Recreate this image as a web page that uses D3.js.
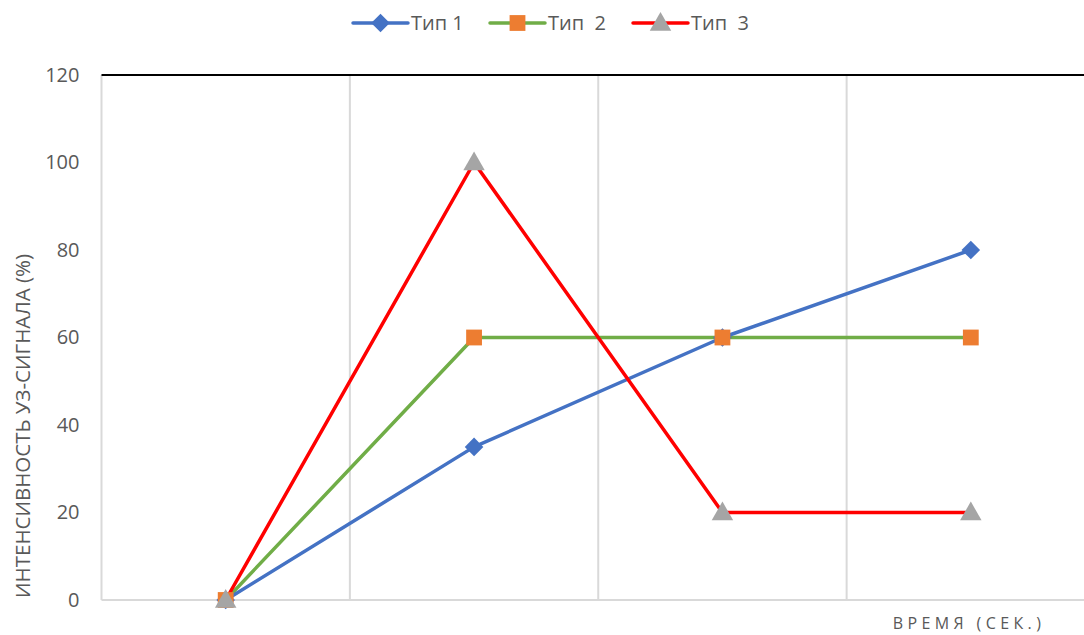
<!DOCTYPE html>
<html>
<head>
<meta charset="utf-8">
<script src="https://cdn.jsdelivr.net/npm/d3@7"></script>
<style>
  html, body { margin: 0; padding: 0; background: #fff; }
  svg { display: block; font-family: "Open Sans", sans-serif; }
</style>
</head>
<body>
<svg id="chart" width="1084" height="635"></svg>
<script>
// Time points (categories) and signal intensity per type, %
const categories = ["t1", "t2", "t3", "t4"];
const type1 = [0, 35, 60, 80];
const type2 = [0, 60, 60, 60];
const type3 = [0, 100, 20, 20];
const seriesNames = ["Тип 1", "Тип  2", "Тип  3"];
const yTicks = [0, 20, 40, 60, 80, 100, 120];

const svg = d3.select("#chart");
const plot = { left: 101.5, right: 1095, top: 75, bottom: 600 };

const x = d3.scaleBand().domain(categories).range([plot.left, plot.right]);
const y = d3.scaleLinear().domain([0, 120]).range([plot.bottom, plot.top]);
const cx = c => x(c) + x.bandwidth() / 2;

// vertical gridlines at category boundaries
const bounds = categories.map(c => x(c)).concat([plot.right]);
svg.append("g").selectAll("line").data(bounds).join("line")
  .attr("x1", d => d).attr("x2", d => d)
  .attr("y1", plot.top).attr("y2", plot.bottom)
  .attr("stroke", "#d9d9d9").attr("stroke-width", 2);

// bottom axis line
svg.append("line")
  .attr("x1", plot.left).attr("x2", plot.right)
  .attr("y1", y(0)).attr("y2", y(0))
  .attr("stroke", "#d9d9d9").attr("stroke-width", 2);

// top border line
svg.append("line")
  .attr("x1", plot.left).attr("x2", plot.right)
  .attr("y1", y(120)).attr("y2", y(120))
  .attr("stroke", "#000").attr("stroke-width", 2);

// y axis labels
const yAxis = d3.axisLeft(y).tickValues(yTicks).tickSize(0).tickPadding(22);
const gy = svg.append("g").attr("transform", `translate(${plot.left},0)`).call(yAxis);
gy.select(".domain").remove();
gy.selectAll("text").attr("fill", "#595959").attr("font-size", 20)
  .attr("font-family", "'Open Sans', sans-serif");

// y axis title
svg.append("text")
  .attr("transform", "translate(30,426) rotate(-90)")
  .attr("text-anchor", "middle")
  .attr("fill", "#595959").attr("font-size", 20.5)
  .text("ИНТЕНСИВНОСТЬ УЗ-СИГНАЛА (%)");

// x axis title
svg.append("text")
  .attr("x", 969).attr("y", 629)
  .attr("text-anchor", "middle")
  .attr("fill", "#595959").attr("font-size", 16)
  .attr("letter-spacing", 4.4)
  .text("ВРЕМЯ (СЕК.)");

const series = [
  { name: seriesNames[0], values: type1, color: "#4472c4", marker: "diamond", mcolor: "#4472c4" },
  { name: seriesNames[1], values: type2, color: "#70ad47", marker: "square", mcolor: "#ed7d31" },
  { name: seriesNames[2], values: type3, color: "#ff0000", marker: "triangle", mcolor: "#a5a5a5" }
];

const markerPath = {
  diamond: d3.symbol().type(d3.symbolDiamond2).size(220)(),
  square: d3.symbol().type(d3.symbolSquare).size(250)(),
  triangle: d3.symbol().type(d3.symbolTriangle).size(200)()
};

const line = d3.line().x((d, i) => cx(categories[i])).y(d => y(d));

// lines: green, blue, red
[series[1], series[0], series[2]].forEach(s => {
  svg.append("path").datum(s.values)
    .attr("d", line).attr("fill", "none")
    .attr("stroke", s.color).attr("stroke-width", 3.5)
    .attr("stroke-linejoin", "round");
});

// markers
series.forEach(s => {
  svg.append("g").selectAll("path").data(s.values).join("path")
    .attr("d", markerPath[s.marker])
    .attr("transform", (d, i) => `translate(${cx(categories[i])},${y(d) + (s.marker === "triangle" ? 1.5 : 0)})`)
    .attr("fill", s.mcolor);
});

// legend
const legendItems = [
  { s: series[0], x0: 353 },
  { s: series[1], x0: 490 },
  { s: series[2], x0: 633 }
];
const ly = 23;
legendItems.forEach(({ s, x0 }) => {
  const g = svg.append("g");
  g.append("line").attr("x1", x0).attr("x2", x0 + 55).attr("y1", ly).attr("y2", ly)
    .attr("stroke", s.color).attr("stroke-width", 3.5).attr("stroke-linecap", "round");
  g.append("path").attr("d", markerPath[s.marker])
    .attr("transform", `translate(${x0 + 27.5},${ly + (s.marker === "triangle" ? 1.5 : 0)})`)
    .attr("fill", s.mcolor);
  g.append("text").attr("x", x0 + 58).attr("y", ly).attr("dy", "0.35em")
    .attr("fill", "#595959").attr("font-size", 20)
    .attr("xml:space", "preserve").style("white-space", "pre")
    .text(s.name);
});
</script>
</body>
</html>
